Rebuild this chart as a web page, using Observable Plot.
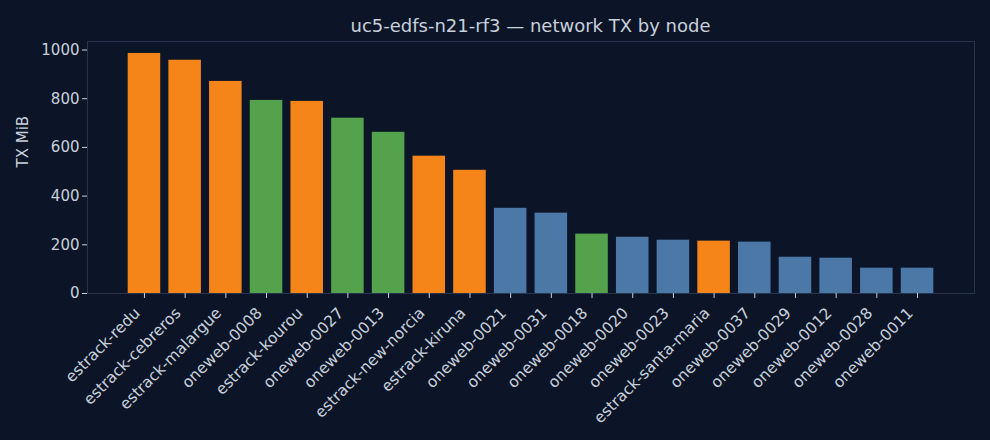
<!DOCTYPE html>
<html>
<head>
<meta charset="utf-8">
<script src="https://cdn.jsdelivr.net/npm/d3@7"></script>
<script src="https://cdn.jsdelivr.net/npm/@observablehq/plot@0.6"></script>
<style>
  html, body { margin: 0; padding: 0; background: #0b1527; }
  body { width: 990px; height: 440px; overflow: hidden; font-family: "DejaVu Sans", sans-serif; }
  #title { height: 40px; box-sizing: border-box; padding: 16px 16px 0 87px; text-align: center;
           font-size: 18px; line-height: 20px; color: #c8d0dc; }
  svg { display: block; }
</style>
</head>
<body>
<div id="title">uc5-edfs-n21-rf3 — network TX by node</div>
<div id="chart"></div>
<script>
const nodes = ["estrack-redu","estrack-cebreros","estrack-malargue","oneweb-0008","estrack-kourou",
  "oneweb-0027","oneweb-0013","estrack-new-norcia","estrack-kiruna","oneweb-0021","oneweb-0031",
  "oneweb-0018","oneweb-0020","oneweb-0023","estrack-santa-maria","oneweb-0037","oneweb-0029",
  "oneweb-0012","oneweb-0028","oneweb-0011"];
const txMiB = [986, 958, 871, 793, 789, 720, 662, 564, 506, 350, 330, 244, 231, 219, 215, 211, 149, 145, 104, 104];
const groups = ["ground","ground","ground","relay","ground","relay","relay","ground","ground","sat","sat",
  "relay","sat","sat","ground","sat","sat","sat","sat","sat"];
const groupDomain = ["ground","relay","sat"];
const yTicks = [0, 200, 400, 600, 800, 1000];

const data = nodes.map((n, i) => ({node: n, tx: txMiB[i], group: groups[i]}));
const fg = "#c8d0dc";

const chart = Plot.plot({
  width: 990,
  height: 400,
  marginTop: 1,
  marginLeft: 87,
  marginRight: 16,
  marginBottom: 147,
  style: {background: "#0b1527", color: fg, fontFamily: "DejaVu Sans, sans-serif", fontSize: "15px"},
  x: {domain: nodes, paddingInner: 0.2, paddingOuter: 1.0, align: 0.5, round: false},
  y: {domain: [0, 1035]},
  color: {domain: groupDomain, range: ["#f58518", "#54a24b", "#4c78a8"]},
  marks: [
    Plot.barY(data, {x: "node", y: "tx", fill: "group"}),
    Plot.frame({stroke: "#26344d", strokeWidth: 1}),
    Plot.axisY({ticks: yTicks, tickFormat: d3.format("d"), tickSize: 5, tickPadding: 3, label: null, stroke: fg, fill: fg, fontSize: 15}),
    Plot.axisX({tickSize: 5, tickFormat: () => "", label: null, stroke: fg}),
    Plot.axisX({tickSize: 0, tickPadding: 10, tickRotate: -45, dx: -7, dy: 7, label: null, fill: fg, fontSize: 15.5}),
    Plot.text(["TX MiB"], {frameAnchor: "left", dx: -64, rotate: -90, fill: fg, fontSize: 15})
  ]
});
document.getElementById("chart").appendChild(chart);
</script>
</body>
</html>
